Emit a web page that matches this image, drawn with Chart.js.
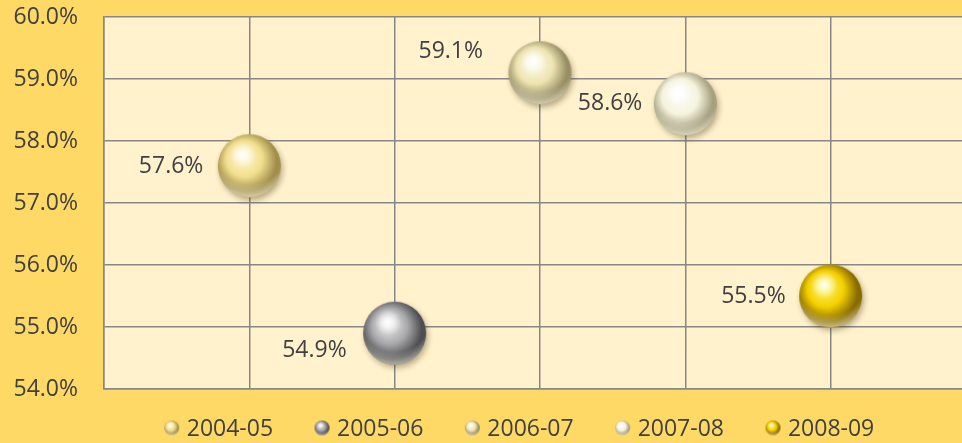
<!DOCTYPE html>
<html>
<head>
<meta charset="utf-8">
<script src="https://cdn.jsdelivr.net/npm/chart.js@4.4.1/dist/chart.umd.min.js"></script>
<style>
    html, body { margin: 0; padding: 0; background: #FFD966; overflow: hidden; }
    canvas { display: block; }
</style>
</head>
<body>
<canvas id="rateChart" width="976" height="443"></canvas>
<script>
// data
const seasons = ['2004-05', '2005-06', '2006-07', '2007-08', '2008-09'];
const seasonX = [1, 2, 3, 4, 5];
const rates = [57.6, 54.9, 59.1, 58.6, 55.5];
const yTicks = [54, 55, 56, 57, 58, 59, 60];

// light / base / dark tone for each ball
const ballTones = [
    ['#FFFCD8', '#F2DF8E', '#A08E4A'],
    ['#F6F6F6', '#A9A9AB', '#4E4E52'],
    ['#FFFEF0', '#EEE5B2', '#978E66'],
    ['#FFFFFF', '#F6F3DE', '#A6A080'],
    ['#FFFA80', '#F5D000', '#876A00']
];

function makeBall (tone, r, withShadow) {
    const pad = Math.ceil(r * 0.4) + 2;
    const size = Math.round(2 * r + 2 * pad);
    const c = document.createElement('canvas');
    c.width = size;
    c.height = size;
    const g = c.getContext('2d');
    const cx = size / 2;
    const cy = size / 2;

    if (withShadow) {
        g.save();
        g.shadowColor = 'rgba(60,40,0,0.4)';
        g.shadowBlur = r * 0.2;
        g.shadowOffsetX = r * 0.06;
        g.shadowOffsetY = r * 0.1;
        g.beginPath();
        g.arc(cx, cy, r - 0.5, 0, Math.PI * 2);
        g.fillStyle = tone[2];
        g.fill();
        g.restore();
    }

    const body = g.createRadialGradient(cx - r * 0.25, cy - r * 0.35, r * 0.02, cx - r * 0.08, cy - r * 0.1, r * 1.12);
    body.addColorStop(0, tone[0]);
    body.addColorStop(0.5, tone[1]);
    body.addColorStop(0.86, tone[2]);
    body.addColorStop(1, tone[2]);
    g.beginPath();
    g.arc(cx, cy, r, 0, Math.PI * 2);
    g.fillStyle = body;
    g.fill();

    // light reflection along the bottom edge
    const rim = g.createRadialGradient(cx, cy - r * 0.55, r * 1.15, cx, cy - r * 0.55, r * 1.58);
    rim.addColorStop(0, 'rgba(255,255,235,0)');
    rim.addColorStop(1, 'rgba(255,255,235,0.6)');
    g.beginPath();
    g.arc(cx, cy, r, 0, Math.PI * 2);
    g.fillStyle = rim;
    g.fill();

    // highlight
    const hi = g.createRadialGradient(cx - r * 0.2, cy - r * 0.35, 0, cx - r * 0.2, cy - r * 0.35, r * 0.42);
    hi.addColorStop(0, 'rgba(255,255,255,0.9)');
    hi.addColorStop(1, 'rgba(255,255,255,0)');
    g.beginPath();
    g.arc(cx, cy, r, 0, Math.PI * 2);
    g.fillStyle = hi;
    g.fill();
    return c;
}

const bigBalls = ballTones.map(t => makeBall(t, 31.5, true));
const smallBalls = ballTones.map(t => makeBall(t, 7.5, false));

const chartBackground = {
    id: 'chartBackground',
    beforeDraw (chart) {
        const { ctx, chartArea } = chart;
        ctx.save();
        ctx.fillStyle = '#FFD966';
        ctx.fillRect(0, 0, chart.width, chart.height);
        ctx.fillStyle = '#FFF2CC';
        ctx.fillRect(chartArea.left, chartArea.top, chartArea.right - chartArea.left, chartArea.bottom - chartArea.top);
        ctx.restore();
    }
};

// ball legend under the plot
const ballLegend = {
    id: 'ballLegend',
    afterDraw (chart, args, opts) {
        const { ctx } = chart;
        ctx.save();
        ctx.font = opts.size + 'px "Open Sans"';
        ctx.fillStyle = '#404040';
        ctx.textBaseline = 'middle';
        ctx.textAlign = 'left';
        const items = chart.data.datasets.map((ds, i) => ({
            text: ds.label,
            ball: smallBalls[i],
            w: opts.ballGap + ctx.measureText(ds.label).width
        }));
        const total = items.reduce((s, it) => s + it.w, 0) + opts.itemGap * (items.length - 1);
        let x = opts.centerX - total / 2;
        items.forEach(it => {
            ctx.drawImage(it.ball, x - it.ball.width / 2, opts.y - it.ball.height / 2);
            ctx.fillText(it.text, x + opts.ballGap, opts.y + 1);
            x += it.w + opts.itemGap;
        });
        ctx.restore();
    }
};

const valueLabels = {
    id: 'valueLabels',
    afterDatasetsDraw (chart, args, opts) {
        const { ctx } = chart;
        ctx.save();
        ctx.font = '23px "Open Sans"';
        ctx.fillStyle = '#404040';
        ctx.textAlign = 'right';
        ctx.textBaseline = 'middle';
        chart.data.datasets.forEach((ds, i) => {
            const pt = chart.getDatasetMeta(i).data[0];
            ctx.fillText(ds.data[0].y.toFixed(1) + '%', pt.x + opts.dx[i], pt.y + opts.dy[i]);
        });
        ctx.restore();
    }
};

const ctx = document.getElementById('rateChart').getContext('2d');

new Chart(ctx, {
    type: 'scatter',
    data: {
        datasets: seasons.map((s, i) => ({
            label: s,
            data: [{ x: seasonX[i], y: rates[i] }],
            pointStyle: bigBalls[i],
            pointRadius: 32,
            pointHoverRadius: 32
        }))
    },
    options: {
        responsive: false,
        animation: false,
        events: [],
        layout: {
            autoPadding: false,
            padding: { top: 17, left: 0, right: 0, bottom: 54 }
        },
        plugins: {
            tooltip: { enabled: false },
            legend: { display: false },
            ballLegend: { centerX: 523, y: 428, size: 23, ballGap: 15, itemGap: 49 },
            valueLabels: {
                dx: [-46, -48, -57, -43, -45],
                dy: [1, 17, -21, 0, 0]
            }
        },
        scales: {
            x: {
                type: 'linear',
                min: 0,
                max: 6,
                ticks: { display: false, stepSize: 1 },
                grid: { color: '#878787', lineWidth: 1.5, drawTicks: false },
                border: { color: '#878787', width: 1.5 },
                afterFit: scale => {
                    scale.height = 0;
                    scale.paddingLeft = 0;
                    scale.paddingRight = 0;
                }
            },
            y: {
                min: 54,
                max: 60,
                afterBuildTicks: scale => {
                    scale.ticks = yTicks.map(v => ({ value: v }));
                },
                ticks: {
                    padding: 26,
                    color: '#404040',
                    font: { family: '"Open Sans"', size: 23 },
                    callback: v => v.toFixed(1) + '%'
                },
                grid: { color: '#878787', lineWidth: 1.5, drawTicks: false },
                border: { color: '#878787', width: 1.5 },
                afterFit: scale => {
                    scale.width = 104;
                    scale.paddingTop = 0;
                    scale.paddingBottom = 0;
                }
            }
        }
    },
    plugins: [chartBackground, ballLegend, valueLabels]
});
</script>
</body>
</html>
